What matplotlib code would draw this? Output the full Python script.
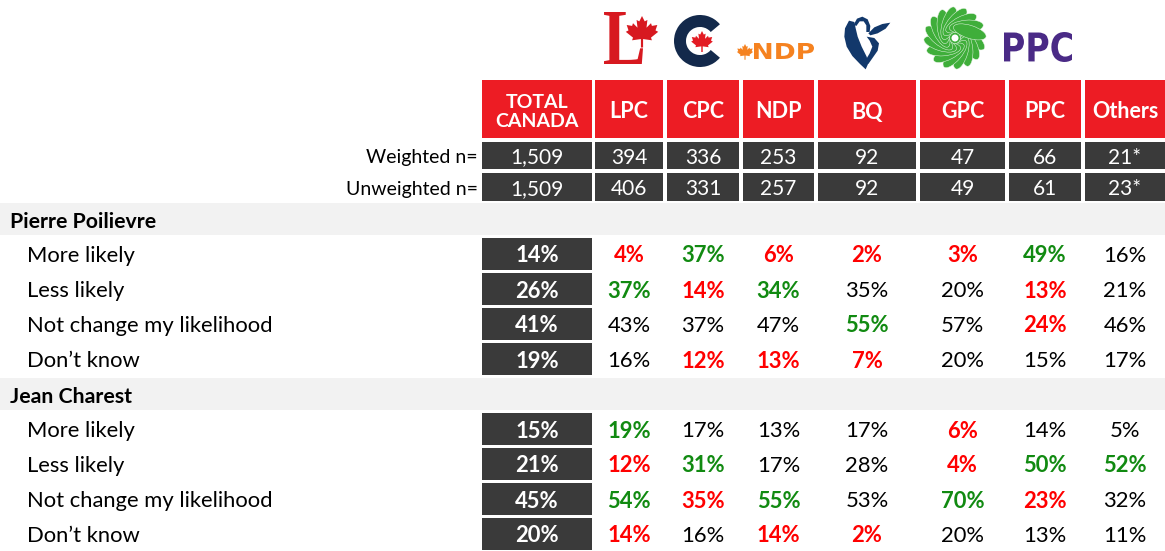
import numpy as np
import matplotlib.pyplot as plt
from matplotlib.patches import Rectangle, Polygon, Ellipse, Wedge, Circle, PathPatch
from matplotlib.textpath import TextPath
from matplotlib.font_manager import FontProperties
from matplotlib.transforms import Affine2D

plt.rcParams['font.family'] = ['Lato', 'DejaVu Sans']

# --- data ---
columns = ["TOTAL\nCANADA", "LPC", "CPC", "NDP", "BQ", "GPC", "PPC", "Others"]
weighted_n = ["1,509", "394", "336", "253", "92", "47", "66", "21*"]
unweighted_n = ["1,509", "406", "331", "257", "92", "49", "61", "23*"]
row_labels = ["More likely", "Less likely", "Not change my likelihood", "Don\u2019t know"]

pp_title = "Pierre Poilievre"
pp_values = [
    [14, 4, 37, 6, 2, 3, 49, 16],
    [26, 37, 14, 34, 35, 20, 13, 21],
    [41, 43, 37, 47, 55, 57, 24, 46],
    [19, 16, 12, 13, 7, 20, 15, 17],
]
pp_sig = ["-rgrrrg-", "-grg--r-", "----g-r-", "--rrr---"]

jc_title = "Jean Charest"
jc_values = [
    [15, 19, 17, 13, 17, 6, 14, 5],
    [21, 12, 31, 17, 28, 4, 50, 52],
    [45, 54, 35, 55, 53, 70, 23, 32],
    [20, 14, 16, 14, 2, 20, 13, 11],
]
jc_sig = ["-g---r--", "-rg--rgg", "-grg-gr-", "-r-rr---"]

# --- layout (pixels) ---
W, H = 1165, 551
col_x0 = [482, 595, 667, 743, 818, 920, 1009, 1085]
col_x1 = [592, 663, 739, 814, 916, 1005, 1081, 1165]
RED = '#ed1c24'
DARK = '#3a3a3a'
GREEN = '#118a11'
SIGRED = '#ff0000'
FS = 15.8

fig = plt.figure(figsize=(W / 100, H / 100), dpi=100)
ax = fig.add_axes([0, 0, 1, 1])
ax.set_xlim(0, W)
ax.set_ylim(H, 0)
ax.axis('off')


def leaf(cx, cy, s, color):
    pts = [(0, 1.0), (0.15, 0.7), (0.3, 0.78), (0.25, 0.35), (0.5, 0.6), (0.55, 0.45),
           (0.85, 0.5), (0.75, 0.2), (0.9, 0.12), (0.5, -0.2), (0.55, -0.35), (0.06, -0.28),
           (0.06, -0.75), (-0.06, -0.75), (-0.06, -0.28), (-0.55, -0.35), (-0.5, -0.2),
           (-0.9, 0.12), (-0.75, 0.2), (-0.85, 0.5), (-0.55, 0.45), (-0.5, 0.6),
           (-0.25, 0.35), (-0.3, 0.78), (-0.15, 0.7)]
    xy = [(cx + px * s, cy - py * s) for px, py in pts]
    ax.add_patch(Polygon(xy, closed=True, fc=color, ec='none'))


def fit_text(s, x0, y0, x1, y1, color, family='DejaVu Sans', weight='bold'):
    tp = TextPath((0, 0), s, size=10, prop=FontProperties(family=family, weight=weight))
    bb = tp.get_extents()
    tr = Affine2D().translate(-bb.x0, -bb.y0).scale((x1 - x0) / bb.width,
                                                    -(y1 - y0) / bb.height).translate(x0, y1)
    ax.add_patch(PathPatch(tr.transform_path(tp), fc=color, ec='none'))


# --- logos ---
fit_text("L", 604, 12, 643, 64, '#d71920', family='Liberation Serif')
leaf(642, 34, 18, '#d71920')

ax.add_patch(Wedge((700, 41), 26, 40, 320, width=12, fc='#13294b', ec='none'))
leaf(702, 43, 12, '#e31b23')

leaf(745, 53, 9, '#f58220')
fit_text("NDP", 754, 43, 814, 59, '#f58220')


def bq_shape(pts):
    xy = [(835 + a / 3, 10 + b / 3) for a, b in pts]
    ax.add_patch(Polygon(xy, closed=True, fc='#12386b', ec='none'))


bq_shape([(42, 32), (58, 36), (62, 55), (68, 80), (80, 110), (95, 140), (100, 160), (92, 178),
          (75, 162), (52, 138), (35, 110), (28, 80), (30, 55)])
bq_shape([(56, 44), (66, 26), (82, 20), (98, 28), (106, 48), (104, 66), (94, 66), (94, 46),
          (86, 34), (74, 34), (64, 48)])
bq_shape([(100, 70), (118, 52), (142, 42), (166, 38), (152, 56), (128, 70), (106, 76)])
bq_shape([(95, 80), (118, 84), (132, 100), (128, 122), (114, 142), (100, 162), (92, 150),
          (104, 130), (112, 110), (104, 92)])

# green flower
ax.add_patch(Circle((955, 38), 24, fc='#3fae3a', ec='none'))
for i in range(16):
    a = np.deg2rad(i * 22.5)
    ax.add_patch(Ellipse((955 + 16 * np.cos(a), 38 + 16 * np.sin(a)), 34, 13,
                         angle=i * 22.5 + 40, fc='#3fae3a', ec='#e8f5e6', lw=0.35))
ax.add_patch(Circle((955, 38), 3.5, fc='white', ec='none'))

fit_text("PPC", 1004, 32, 1072, 62, '#4a2a86')
leaf(1014, 42, 4, 'white')

# --- header ---
for i, c in enumerate(columns):
    ax.add_patch(Rectangle((col_x0[i], 80), col_x1[i] - col_x0[i], 58, fc=RED, ec='none'))
    ax.text((col_x0[i] + col_x1[i]) / 2, 112, c, ha='center', va='center', color='white',
            fontsize=15.5 if i else 14, fontweight='bold', linespacing=1.2)

for y0, y1, lab, vals in [(142, 169, "Weighted n=", weighted_n),
                          (173, 201, "Unweighted n=", unweighted_n)]:
    ax.text(478, (y0 + y1) / 2 + 2, lab, ha='right', va='center', fontsize=14)
    for i, v in enumerate(vals):
        ax.add_patch(Rectangle((col_x0[i], y0), col_x1[i] - col_x0[i], y1 - y0, fc=DARK, ec='none'))
        ax.text((col_x0[i] + col_x1[i]) / 2, (y0 + y1) / 2 + 2, v, ha='center', va='center',
                color='white', fontsize=15)


def section(title, values, sig, band_top):
    ax.add_patch(Rectangle((0, band_top), W, 32, fc='#f2f2f2', ec='none'))
    ax.text(10, band_top + 19, title, ha='left', va='center', fontsize=FS - 0.5, fontweight='bold')
    for r, (lab, vals, flags) in enumerate(zip(row_labels, values, sig)):
        y0 = band_top + 35 + r * 35
        yc = y0 + 18
        ax.text(27, yc, lab, ha='left', va='center', fontsize=FS)
        ax.add_patch(Rectangle((col_x0[0], y0), col_x1[0] - col_x0[0], 32, fc=DARK, ec='none'))
        ax.text((col_x0[0] + col_x1[0]) / 2, yc, f"{vals[0]}%", ha='center', va='center',
                color='white', fontsize=FS, fontweight='bold')
        for i in range(1, len(vals)):
            f = flags[i]
            color = {'r': SIGRED, 'g': GREEN}.get(f, 'black')
            ax.text((col_x0[i] + col_x1[i]) / 2, yc, f"{vals[i]}%", ha='center', va='center',
                    color=color, fontsize=FS, fontweight='bold' if f in 'rg' else 'normal')


section(pp_title, pp_values, pp_sig, 203)
section(jc_title, jc_values, jc_sig, 378)

fig.savefig("out.png", dpi=100)
